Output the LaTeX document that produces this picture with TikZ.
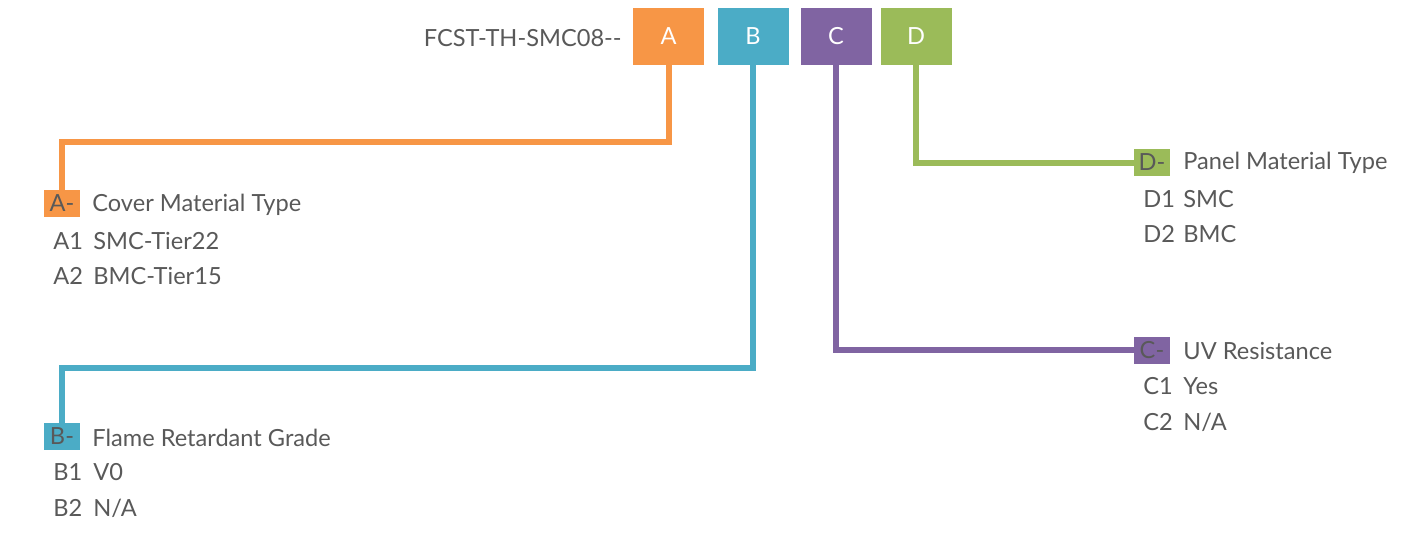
\documentclass[tikz,border=0pt]{standalone}
\usepackage{fontspec}
\setmainfont{Lato}
\definecolor{colA}{HTML}{F79646}
\definecolor{colB}{HTML}{4BACC6}
\definecolor{colC}{HTML}{8064A2}
\definecolor{colD}{HTML}{9BBB59}
\definecolor{textgray}{HTML}{595959}
\tikzset{
  key/.style={fill=#1,text=white,minimum width=35.5pt,minimum height=28.5pt,inner sep=0pt},
  tag/.style={fill=#1,text=textgray,minimum width=18pt,minimum height=13.5pt,inner sep=0pt},
  item/.style={text=textgray,anchor=west,inner sep=0pt},
  wire/.style={line width=3pt,draw=#1}
}
\begin{document}
\begin{tikzpicture}[x=0.5pt,y=-0.5pt,font=\fontsize{11.8}{13}\selectfont]
    \useasboundingbox (0,0) rectangle (1402,542);
    \node[item,anchor=east] (code) at (622,38) {FCST-TH-SMC08-{}-};
    \node[key=colA] (A) at (668.5,36.5) {A};
    \node[key=colB] (B) at (753,36.5) {B};
    \node[key=colC] (C) at (836,36.5) {C};
    \node[key=colD] (D) at (916,36.5) {D};

    % A
    \node[tag=colA] (Atag) at (62,203.5) {A-};
    \node[item] (Aname) at (92,205) {Cover Material Type};
    \node[item] (A1) at (53,241) {A1};
    \node[item] (A1v) at (93,241) {SMC-Tier22};
    \node[item] (A2) at (53,276) {A2};
    \node[item] (A2v) at (93,276) {BMC-Tier15};
    \draw[wire=colA] (A.south) -- ++(0,77) -| (Atag.north);

    % B
    \node[tag=colB] (Btag) at (62,436.5) {B-};
    \node[item] (Bname) at (92,438) {Flame Retardant Grade};
    \node[item] (B1) at (53,472) {B1};
    \node[item] (B1v) at (93,472) {V0};
    \node[item] (B2) at (53,508) {B2};
    \node[item] (B2v) at (93,508) {N/A};
    \draw[wire=colB] (B.south) -- ++(0,303) -| (Btag.north);

    % C
    \node[tag=colC] (Ctag) at (1152,350) {C-};
    \node[item] (Cname) at (1183,351) {UV Resistance};
    \node[item] (C1) at (1143,386) {C1};
    \node[item] (C1v) at (1183,386) {Yes};
    \node[item] (C2) at (1143,422) {C2};
    \node[item] (C2v) at (1183,422) {N/A};
    \draw[wire=colC] (C.south) |- (Ctag.west);

    % D
    \node[tag=colD] (Dtag) at (1152,162.5) {D-};
    \node[item] (Dname) at (1183,163) {Panel Material Type};
    \node[item] (D1) at (1143,199) {D1};
    \node[item] (D1v) at (1183,199) {SMC};
    \node[item] (D2) at (1143,234) {D2};
    \node[item] (D2v) at (1183,234) {BMC};
    \draw[wire=colD] (D.south) |- (Dtag.west);
\end{tikzpicture}
\end{document}
